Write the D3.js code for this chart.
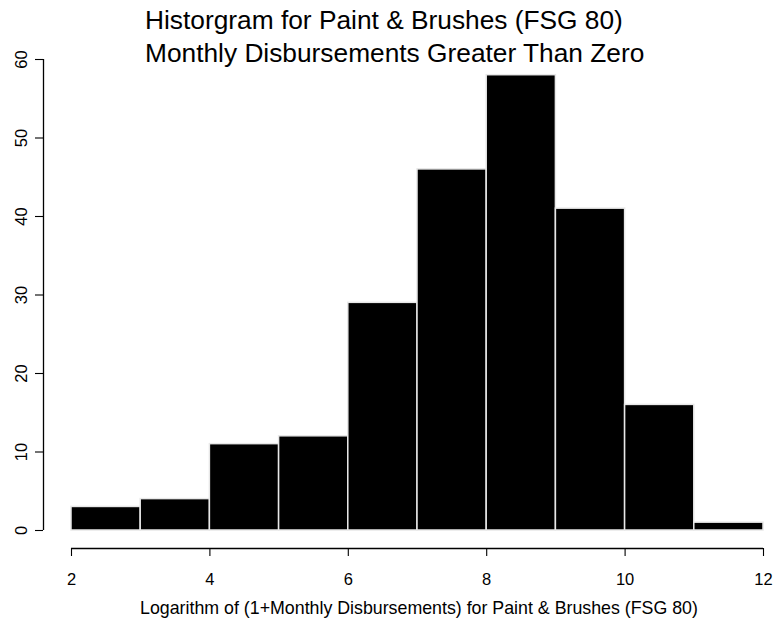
<!DOCTYPE html>
<html>
<head>
<meta charset="utf-8">
<script src="https://cdn.jsdelivr.net/npm/d3@7"></script>
<style>
  html, body { margin: 0; padding: 0; background: #fff; }
  svg { display: block; font-family: "Liberation Sans", Arial, Helvetica, sans-serif; }
</style>
</head>
<body>
<svg id="chart" width="782" height="622"></svg>
<script>
// Histogram bins: lower edge, upper edge, count
const binStarts = [2, 3, 4, 5, 6, 7, 8, 9, 10, 11];
const binEnds   = [3, 4, 5, 6, 7, 8, 9, 10, 11, 12];
const counts    = [3, 4, 11, 12, 29, 46, 58, 41, 16, 1];
const xTicks = [2, 4, 6, 8, 10, 12];
const yTicks = [0, 10, 20, 30, 40, 50, 60];
const titleLines = [
  "Historgram for Paint & Brushes (FSG 80)",
  "Monthly Disbursements Greater Than Zero"
];
const xLabel = "Logarithm of (1+Monthly Disbursements) for Paint & Brushes (FSG 80)";

const svg = d3.select("#chart");

const x = d3.scaleLinear().domain([2, 12]).range([71, 763]);
const y = d3.scaleLinear().domain([0, 60]).range([530, 59]);

const bins = binStarts.map((s, i) => ({ x0: s, x1: binEnds[i], n: counts[i] }));

// Bars
svg.append("g").selectAll("rect")
  .data(bins)
  .join("rect")
  .attr("x", d => x(d.x0))
  .attr("y", d => y(d.n))
  .attr("width", d => x(d.x1) - x(d.x0))
  .attr("height", d => y(0) - y(d.n))
  .attr("fill", "#000")
  .attr("stroke", "#e8e8e8")
  .attr("stroke-width", 1.5);

// X axis
const xAxis = d3.axisBottom(x).tickValues(xTicks).tickSize(8).tickPadding(10).tickFormat(d3.format("d"));
const gx = svg.append("g").attr("transform", "translate(0,548)").call(xAxis);
gx.select(".domain").attr("d", `M${x(2)},0.5H${x(12)}`).attr("stroke", "#000").attr("stroke-width", 1.3);
gx.selectAll(".tick line").attr("stroke", "#000").attr("stroke-width", 1.1);
gx.selectAll(".tick text").attr("font-size", 16.5).attr("fill", "#000")
  .attr("font-family", "'Liberation Sans', Arial, sans-serif")
  .attr("y", 37).attr("dy", null);

// Y axis
const yAxis = d3.axisLeft(y).tickValues(yTicks).tickSize(8).tickFormat(d3.format("d"));
const gy = svg.append("g").attr("transform", "translate(43,0)").call(yAxis);
gy.select(".domain").attr("d", `M0.5,${y(0)}V${y(60)}`).attr("stroke", "#000").attr("stroke-width", 1.3);
gy.selectAll(".tick line").attr("stroke", "#000").attr("stroke-width", 1.1);
gy.selectAll(".tick text")
  .attr("font-size", 16.5).attr("fill", "#000")
  .attr("font-family", "'Liberation Sans', Arial, sans-serif")
  .attr("x", null).attr("dy", null)
  .attr("text-anchor", "middle")
  .attr("transform", "translate(-16,0) rotate(-90)");

// Title
svg.append("g").selectAll("text")
  .data(titleLines)
  .join("text")
  .attr("x", 145)
  .attr("y", (d, i) => 29 + i * 33)
  .attr("font-size", 26.3)
  .attr("fill", "#000")
  .text(d => d);

// X axis label
svg.append("text")
  .attr("x", 419)
  .attr("y", 614)
  .attr("text-anchor", "middle")
  .attr("font-size", 17.8)
  .attr("fill", "#000")
  .text(xLabel);
</script>
</body>
</html>
